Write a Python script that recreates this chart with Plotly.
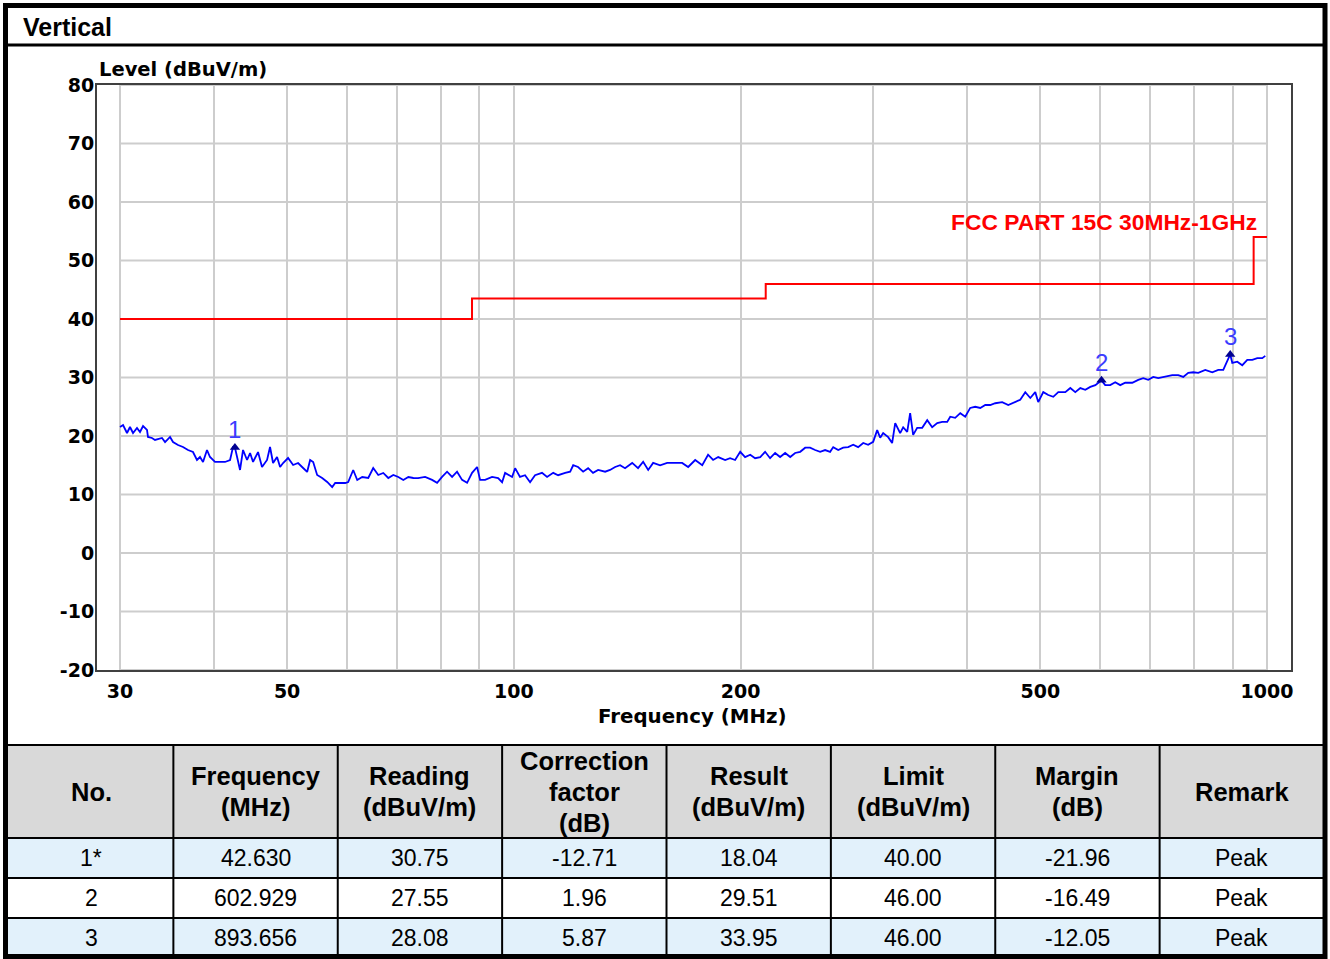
import math
import plotly.graph_objects as go

W, H = 1330, 959

# ---------------- data ----------------
scan_freq_a = [30.00, 30.28, 30.65, 30.93, 31.22, 31.60, 31.89, 32.19, 32.58, 32.68, 33.08, 33.39, 34.11, 34.43,
               34.96, 35.28, 35.82, 36.37, 36.93, 37.50, 37.96, 38.31, 38.67, 39.14, 39.50, 40.11, 41.36, 42.00,
               42.38, 42.63, 43.30, 43.70, 44.24, 44.65, 45.06, 45.75, 46.31, 47.03, 47.46, 47.90, 48.49, 48.94,
               49.39, 50.15, 50.93, 51.71, 52.51, 53.16, 53.65, 54.15, 54.81, 55.66, 56.52, 57.39, 57.92, 59.72,
               60.27, 61.20, 61.96, 62.91, 64.08, 65.06, 66.07, 67.09, 68.13, 69.18, 70.25, 71.33, 72.44, 73.55]
scan_level_a = [21.54, 21.88, 20.51, 21.54, 20.51, 21.37, 20.68, 21.71, 21.03, 19.83, 19.66, 19.32, 19.66, 18.97,
                19.83, 18.97, 18.46, 18.12, 17.61, 17.26, 15.90, 16.41, 15.56, 17.61, 16.41, 15.56, 15.56, 15.90,
                18.12, 18.04, 14.19, 17.61, 15.90, 17.09, 15.56, 17.26, 14.70, 15.90, 18.12, 15.38, 16.41, 14.70,
                15.38, 16.24, 15.04, 15.38, 14.53, 13.85, 15.90, 15.56, 13.33, 12.82, 12.14, 11.28, 11.97, 11.97,
                12.14, 14.19, 12.48, 12.99, 12.82, 14.53, 13.33, 13.68, 12.82, 13.33, 12.99, 12.48, 12.99, 12.82]

scan_freq_b = [74.63, 76.24, 77.89, 79.09, 80.30, 81.54, 82.80, 84.07, 85.37, 86.69, 88.02, 89.38, 90.20, 91.59,
               93.57, 95.31, 96.48, 97.37, 99.47, 100.4, 101.9, 103.5, 105.1, 106.7, 109.0, 110.7, 112.8, 114.5,
               117.0, 118.8, 119.9, 121.7, 123.6, 125.5, 127.4, 129.4, 132.2, 134.2, 136.3, 138.4, 140.5, 143.6,
               146.2, 148.5, 150.8, 153.1, 156.4, 159.8, 162.8, 167.3, 170.4, 174.1, 177.9]
scan_level_b = [12.8, 13.0, 12.5, 12.0, 13.0, 13.9, 13.0, 13.9, 12.5, 12.0, 13.7, 14.7, 12.5, 12.5,
                13.0, 12.8, 12.1, 13.7, 13.0, 14.5, 13.0, 13.3, 12.1, 13.3, 13.7, 13.0, 13.7, 13.3,
                13.7, 13.9, 15.0, 14.7, 13.9, 14.5, 13.7, 14.2, 13.9, 14.2, 14.7, 15.0, 14.5, 15.4,
                14.5, 15.6, 14.2, 15.4, 15.0, 15.4, 15.4, 15.4, 14.7, 15.9, 15.0]

scan_freq_c = [181.1, 183.9, 186.8, 190.8, 193.7, 196.7, 199.8, 202.8, 206.0, 209.1, 212.4, 215.6, 218.9, 222.3,
               225.7, 229.2, 232.8, 236.3, 240.0, 243.7, 247.4, 251.2, 255.1, 259.0, 263.0, 265.5, 269.6, 273.7,
               277.9, 282.2, 286.5, 291.0, 295.4, 300.0, 303.7, 306.5, 309.3, 314.1, 317.9, 320.9, 325.8, 328.8,
               332.9, 335.9, 339.0, 343.2, 348.5, 353.9, 359.3, 364.9, 370.5, 376.2, 379.7, 385.5, 391.5, 397.5,
               403.6, 409.8, 416.2, 422.6]
scan_level_c = [16.8, 15.9, 16.4, 15.9, 16.2, 15.9, 17.3, 16.4, 16.8, 16.2, 16.4, 17.3, 16.2, 17.1,
                16.4, 17.1, 16.4, 17.1, 17.3, 18.0, 18.0, 17.6, 17.3, 17.6, 17.3, 18.1, 17.6, 18.0,
                18.1, 18.5, 18.1, 18.8, 18.5, 19.0, 21.0, 19.7, 20.5, 19.8, 18.8, 22.2, 20.5, 21.5,
                20.7, 23.9, 20.2, 21.4, 21.4, 22.7, 21.5, 22.2, 22.4, 22.4, 23.3, 23.1, 23.9, 23.3,
                24.8, 25.0, 24.8, 25.3]

scan_freq_d = [429.1, 435.7, 445.1, 453.4, 463.2, 470.3, 477.6, 485.0, 492.4, 496.9, 504.6, 512.4, 520.3, 528.3,
               539.8, 548.1, 556.5, 565.1, 573.8, 582.7, 591.7, 602.929, 609.8, 619.2, 628.8, 638.5, 648.3, 662.4,
               674.6, 685.0, 695.6, 706.3, 717.2, 732.7, 748.5, 762.4, 774.2, 786.1, 798.2, 810.5, 828.0, 845.9,
               861.6, 874.9, 893.656, 899.3, 913.2, 927.2, 941.5, 956.0, 970.8, 985.7, 994.8]
scan_level_d = [25.3, 25.6, 25.8, 25.3, 25.8, 26.2, 27.5, 26.5, 27.5, 25.8, 27.5, 27.0, 26.7, 27.5,
                27.5, 28.2, 27.5, 28.2, 27.9, 28.4, 28.7, 29.51, 28.7, 28.7, 29.2, 28.7, 29.1, 29.1,
                29.6, 29.9, 29.6, 30.1, 29.9, 30.1, 30.4, 30.4, 30.1, 30.8, 30.9, 30.8, 31.3, 30.9,
                31.3, 31.3, 33.95, 32.5, 32.7, 32.1, 33.0, 33.0, 33.3, 33.3, 33.7]

scan_freq = scan_freq_a + scan_freq_b + scan_freq_c + scan_freq_d
scan_level = scan_level_a + scan_level_b + scan_level_c + scan_level_d
assert len(scan_freq) == len(scan_level)

limit_freq = [30, 88, 216, 960, 1000]
limit_level = [40, 43.5, 46, 54, 54]
limit_name = "FCC PART 15C 30MHz-1GHz"

x_tick_vals = [30, 50, 100, 200, 500, 1000]
x_tick_text = ["30", "50", "100", "200", "500", "1000"]
x_minor_vals = [40, 60, 70, 80, 90, 300, 400, 600, 700, 800, 900]
y_tick_vals = [-20, -10, 0, 10, 20, 30, 40, 50, 60, 70, 80]
y_tick_text = ["-20", "-10", "0", "10", "20", "30", "40", "50", "60", "70", "80"]

peak_no = ["1*", "2", "3"]
peak_label = ["1", "2", "3"]
peak_freq_text = ["42.630", "602.929", "893.656"]
peak_freq = [42.630, 602.929, 893.656]
peak_reading = [30.75, 27.55, 28.08]
peak_corr = [-12.71, 1.96, 5.87]
peak_result = [18.04, 29.51, 33.95]
peak_limit = [40.00, 46.00, 46.00]
peak_margin = [-21.96, -16.49, -12.05]
peak_remark = ["Peak", "Peak", "Peak"]

table_header = ["No.", "Frequency\n(MHz)", "Reading\n(dBuV/m)", "Correction\nfactor\n(dB)",
                "Result\n(dBuV/m)", "Limit\n(dBuV/m)", "Margin\n(dB)", "Remark"]

# ---------------- helpers ----------------
def px(x):
    return x / W

def py(y):
    return 1 - y / H

ARIAL = "Liberation Sans, Arial, sans-serif"
CHART_FONT = "DejaVu Sans, Verdana, sans-serif"

fig = go.Figure()

fig.add_trace(go.Scatter(x=scan_freq, y=scan_level, mode="lines",
                         line=dict(color="#0000ff", width=1.8), hoverinfo="skip", showlegend=False))
fig.add_trace(go.Scatter(x=limit_freq, y=limit_level, mode="lines", line_shape="hv",
                         line=dict(color="#ff0000", width=2), hoverinfo="skip", showlegend=False))
fig.add_trace(go.Scatter(x=peak_freq, y=peak_result, mode="markers",
                         marker=dict(symbol="triangle-up", size=9, color="#000090"),
                         hoverinfo="skip", showlegend=False))

shapes = []
annotations = []

# horizontal grid lines (span only the data range)
for v in y_tick_vals:
    shapes.append(dict(type="line", xref="x", yref="y", x0=30, x1=1000, y0=v, y1=v,
                       line=dict(color="#cdcdcd", width=2), layer="below"))

# peak number labels
for f, r, lab in zip(peak_freq, peak_result, peak_label):
    annotations.append(dict(x=math.log10(f), y=r, xref="x", yref="y", text=lab, showarrow=False,
                            yshift=18, font=dict(family=ARIAL, size=24, color="#3c3cff")))

# limit label
annotations.append(dict(x=px(1259), y=py(222), xref="paper", yref="paper", text=limit_name,
                        showarrow=False, xanchor="right", yanchor="middle",
                        font=dict(family=ARIAL, size=22.8, color="#ff0000", weight="bold")))

# axis titles
annotations.append(dict(x=px(97), y=py(69), xref="paper", yref="paper", text="Level (dBuV/m)",
                        showarrow=False, xanchor="left", yanchor="middle",
                        font=dict(family=CHART_FONT, size=19.5, color="#000000", weight="bold")))
annotations.append(dict(x=px(693), y=py(716), xref="paper", yref="paper", text="Frequency (MHz)",
                        showarrow=False, xanchor="center", yanchor="middle",
                        font=dict(family=CHART_FONT, size=19.8, color="#000000", weight="bold")))

# header "Vertical"
annotations.append(dict(x=px(21), y=py(27), xref="paper", yref="paper", text="Vertical",
                        showarrow=False, xanchor="left", yanchor="middle",
                        font=dict(family=ARIAL, size=25, color="#000000", weight="bold")))

# ---------------- table ----------------
T_LEFT, T_RIGHT = 9, 1324
T_TOP, HDR_BOT = 745, 838
ROW_H = 40
ncol = len(table_header)
col_w = (T_RIGHT - T_LEFT) / ncol
row_fill = ["#e2f1fb", "#ffffff", "#e2f1fb"]

shapes.append(dict(type="rect", xref="paper", yref="paper", x0=px(8), x1=px(1324), y0=py(T_TOP), y1=py(HDR_BOT),
                   fillcolor="#d9d9d9", line=dict(width=0), layer="below"))
for i in range(len(peak_no)):
    shapes.append(dict(type="rect", xref="paper", yref="paper", x0=px(8), x1=px(1324),
                       y0=py(HDR_BOT + i * ROW_H), y1=py(HDR_BOT + (i + 1) * ROW_H),
                       fillcolor=row_fill[i], line=dict(width=0), layer="below"))
for yy in [T_TOP, HDR_BOT] + [HDR_BOT + (i + 1) * ROW_H for i in range(len(peak_no) - 1)]:
    shapes.append(dict(type="line", xref="paper", yref="paper", x0=px(8), x1=px(1324), y0=py(yy), y1=py(yy),
                       line=dict(color="#000000", width=2)))
for c in range(1, ncol):
    xx = T_LEFT + c * col_w
    shapes.append(dict(type="line", xref="paper", yref="paper", x0=px(xx), x1=px(xx), y0=py(T_TOP), y1=py(957),
                       line=dict(color="#000000", width=2)))

hdr_mid = (T_TOP + HDR_BOT) / 2
for c, txt in enumerate(table_header):
    lines = txt.split("\n")
    n = len(lines)
    for k, ln in enumerate(lines):
        yc = hdr_mid + (k - (n - 1) / 2) * 31
        annotations.append(dict(x=px(T_LEFT + (c + 0.5) * col_w), y=py(yc), xref="paper", yref="paper",
                                text=ln, showarrow=False, xanchor="center", yanchor="middle",
                                font=dict(family=ARIAL, size=25.5, color="#000000", weight="bold")))

rows = []
for i in range(len(peak_no)):
    rows.append([peak_no[i], peak_freq_text[i], f"{peak_reading[i]:.2f}", f"{peak_corr[i]:.2f}",
                 f"{peak_result[i]:.2f}", f"{peak_limit[i]:.2f}", f"{peak_margin[i]:.2f}", peak_remark[i]])
for i, row in enumerate(rows):
    yc = HDR_BOT + (i + 0.5) * ROW_H
    for c, txt in enumerate(row):
        annotations.append(dict(x=px(T_LEFT + (c + 0.5) * col_w), y=py(yc), xref="paper", yref="paper",
                                text=txt, showarrow=False, xanchor="center", yanchor="middle",
                                font=dict(family=ARIAL, size=23, color="#000000")))

# outer frame and header separator
shapes.append(dict(type="line", xref="paper", yref="paper", x0=px(8), x1=px(1324), y0=py(45), y1=py(45),
                   line=dict(color="#000000", width=3)))
shapes.append(dict(type="rect", xref="paper", yref="paper", x0=px(5.5), x1=px(1325), y0=py(5.5), y1=py(956.5),
                   line=dict(color="#000000", width=5), fillcolor="rgba(0,0,0,0)"))

x_lo = math.log10(30) - 23 / 753
x_hi = 3 + 24 / 753

fig.update_layout(
    template="none",
    width=W, height=H, autosize=False,
    margin=dict(l=0, r=0, t=0, b=0, pad=0, autoexpand=False),
    paper_bgcolor="#ffffff", plot_bgcolor="#ffffff",
    hovermode=False, showlegend=False,
    shapes=shapes, annotations=annotations,
    xaxis=dict(type="log", range=[x_lo, x_hi], domain=[px(97), px(1291)], automargin=False,
               showline=True, mirror=True, linecolor="#404040", linewidth=2,
               tickmode="array", tickvals=x_tick_vals, ticktext=x_tick_text, ticks="",
               ticklabelstandoff=3,
               tickfont=dict(family=CHART_FONT, size=19, color="#000000", weight="bold"),
               showgrid=True, gridcolor="#cdcdcd", gridwidth=2, zeroline=False,
               minor=dict(tickmode="array", tickvals=x_minor_vals, showgrid=True,
                          gridcolor="#cdcdcd", gridwidth=2, ticks="")),
    yaxis=dict(range=[-20, 80], domain=[py(670), py(85)], automargin=False,
               showline=True, mirror=True, linecolor="#404040", linewidth=2,
               tickmode="array", tickvals=y_tick_vals, ticktext=y_tick_text, ticks="", ticklabelstandoff=-3,
               tickfont=dict(family=CHART_FONT, size=19, color="#000000", weight="bold"),
               showgrid=False, zeroline=False),
)

fig.write_html("out.html", config={"displayModeBar": False, "responsive": False},
               post_script="document.body.style.margin='0';document.body.style.overflow='hidden';")
